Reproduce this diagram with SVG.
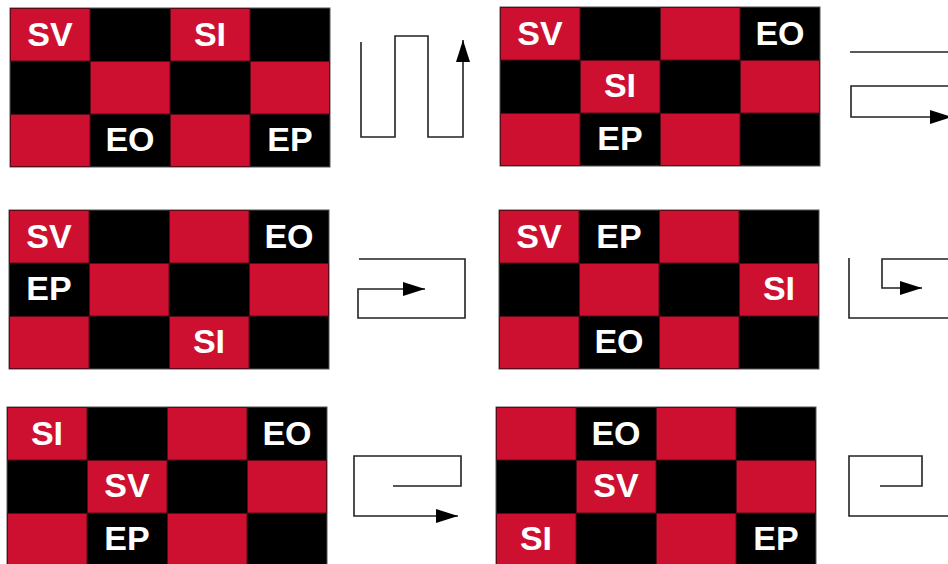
<svg xmlns="http://www.w3.org/2000/svg" xmlns:xlink="http://www.w3.org/1999/xlink" width="948" height="564" viewBox="0 0 948 564">
<style>
.bg{fill:#000;stroke:#555;stroke-width:1}
.r{fill:#CE1030;stroke:#5a0a18;stroke-width:1}
.t{font-family:"Liberation Sans",Arial,sans-serif;font-weight:bold;font-size:34px;fill:#fff;text-anchor:middle}
.p{fill:none;stroke:#222;stroke-width:1.6}
</style>
<defs>
<marker id="ah" markerUnits="userSpaceOnUse" markerWidth="24" markerHeight="16" refX="22" refY="7" orient="auto">
<path d="M0,0 L22,7 L0,14 Z" fill="#000"/>
</marker>
<g id="board">
<rect class="bg" x="0" y="0" width="320" height="159"/>
<rect class="r" x="0.5" y="0.5" width="79.5" height="52.5"/>
<rect class="r" x="160.5" y="0.5" width="79.5" height="52.5"/>
<rect class="r" x="80.5" y="53.5" width="79.5" height="52.5"/>
<rect class="r" x="240.5" y="53.5" width="79" height="52.5"/>
<rect class="r" x="0.5" y="106.5" width="79.5" height="52"/>
<rect class="r" x="160.5" y="106.5" width="79.5" height="52"/>
</g>
</defs>

<g id="grid1" transform="translate(10,8)">
<use xlink:href="#board"/>
<text class="t" x="40" y="38">SV</text>
<text class="t" x="200" y="38">SI</text>
<text class="t" x="120" y="143">EO</text>
<text class="t" x="280" y="143">EP</text>
</g>

<g id="grid2" transform="translate(500,7)">
<use xlink:href="#board"/>
<text class="t" x="40" y="38">SV</text>
<text class="t" x="280" y="38">EO</text>
<text class="t" x="120" y="90">SI</text>
<text class="t" x="120" y="143">EP</text>
</g>

<g id="grid3" transform="translate(9,210)">
<use xlink:href="#board"/>
<text class="t" x="40" y="38">SV</text>
<text class="t" x="280" y="38">EO</text>
<text class="t" x="40" y="90">EP</text>
<text class="t" x="200" y="143">SI</text>
</g>

<g id="grid4" transform="translate(499,210)">
<use xlink:href="#board"/>
<text class="t" x="40" y="38">SV</text>
<text class="t" x="120" y="38">EP</text>
<text class="t" x="280" y="90">SI</text>
<text class="t" x="120" y="143">EO</text>
</g>

<g id="grid5" transform="translate(7,407)">
<use xlink:href="#board"/>
<text class="t" x="40" y="38">SI</text>
<text class="t" x="280" y="38">EO</text>
<text class="t" x="120" y="90">SV</text>
<text class="t" x="120" y="143">EP</text>
</g>

<g id="grid6" transform="translate(496,407)">
<use xlink:href="#board"/>
<text class="t" x="120" y="38">EO</text>
<text class="t" x="120" y="90">SV</text>
<text class="t" x="40" y="143">SI</text>
<text class="t" x="280" y="143">EP</text>
</g>

<g id="connectors">
<path class="p" d="M361,42 L361,137 L395,137 L395,36 L428,36 L428,137 L463,137 L463,40" marker-end="url(#ah)"/>
<path class="p" d="M850,52 L960,52"/>
<path class="p" d="M960,86 L851,86 L851,117 L952,117" marker-end="url(#ah)"/>
<path class="p" d="M359,259 L465,259 L465,318 L358,318 L358,289 L425,289" marker-end="url(#ah)"/>
<path class="p" d="M960,259 L882,259 L882,288 L922,288" marker-end="url(#ah)"/>
<path class="p" d="M849,258 L849,318 L960,318"/>
<path class="p" d="M393,486 L461,486 L461,456 L354,456 L354,516 L458,516" marker-end="url(#ah)"/>
<path class="p" d="M880,486 L922,486 L922,456 L849,456 L849,516 L960,516"/>
</g>
</svg>
